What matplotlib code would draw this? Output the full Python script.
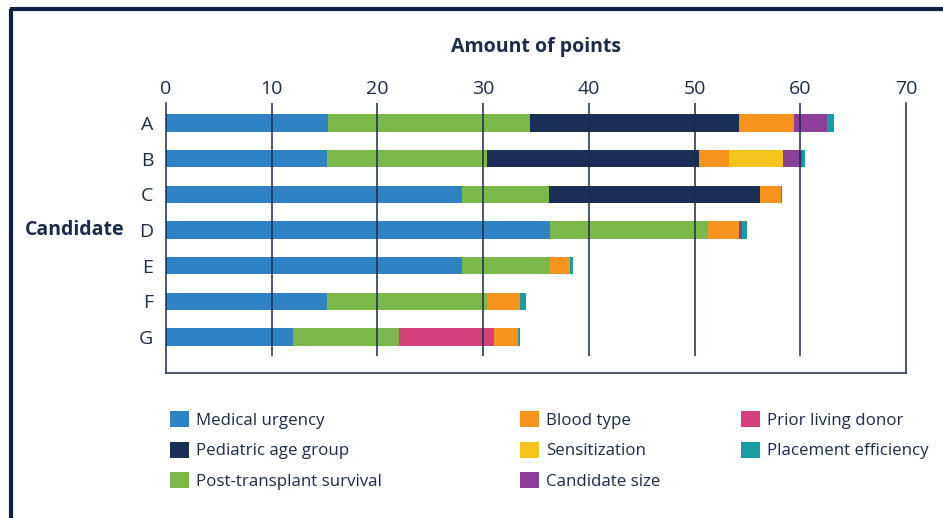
import matplotlib
matplotlib.use("Agg")
import matplotlib.pyplot as plt
from matplotlib.lines import Line2D
import matplotlib.transforms as mtransforms
import numpy as np

plt.rcParams['font.family'] = ['Open Sans', 'DejaVu Sans']

candidates = ["A", "B", "C", "D", "E", "F", "G"]
criteria = ["Medical urgency", "Pediatric age group", "Post-transplant survival",
            "Blood type", "Sensitization", "Candidate size",
            "Prior living donor", "Placement efficiency"]

medical_urgency   = [15.3, 15.2, 28.0, 36.3, 28.0, 15.2, 12.0]
post_transplant   = [19.1, 15.2, 8.2, 15.0, 8.3, 15.2, 10.0]
prior_living      = [0, 0, 0, 0, 0, 0, 9.0]
pediatric_age     = [19.8, 20.0, 20.0, 0, 0, 0, 0]
blood_type        = [5.2, 2.9, 2.0, 2.9, 1.9, 3.1, 2.3]
sensitization     = [0, 5.1, 0, 0, 0, 0, 0]
candidate_size    = [3.1, 1.8, 0, 0.3, 0, 0, 0]
placement_eff     = [0.7, 0.2, 0.1, 0.5, 0.3, 0.6, 0.2]

colors = {
    "Medical urgency": "#2f83c4",
    "Pediatric age group": "#1b2e58",
    "Post-transplant survival": "#7bb84a",
    "Blood type": "#f7941d",
    "Sensitization": "#f5c31c",
    "Candidate size": "#8b3f98",
    "Prior living donor": "#d43f7e",
    "Placement efficiency": "#1a9ca6",
}

# stacking order as drawn left to right
stack = [
    ("Medical urgency", medical_urgency),
    ("Post-transplant survival", post_transplant),
    ("Prior living donor", prior_living),
    ("Pediatric age group", pediatric_age),
    ("Blood type", blood_type),
    ("Sensitization", sensitization),
    ("Candidate size", candidate_size),
    ("Placement efficiency", placement_eff),
]

xticks = [0, 10, 20, 30, 40, 50, 60, 70]
navy = "#1c2b4a"

W, H = 943, 518
fig = plt.figure(figsize=(W / 100, H / 100), dpi=100)
ax = fig.add_axes([166 / W, 1 - 373 / H, (906 - 166) / W, (373 - 103) / H])

y = np.arange(len(candidates))
left = np.zeros(len(candidates))
handles = {}
for name, vals in stack:
    vals = np.array(vals, dtype=float)
    bc = ax.barh(y, vals, left=left, height=0.49, color=colors[name],
                 label=name, zorder=2, linewidth=0)
    handles[name] = bc
    left = left + vals

ax.set_xlim(0, 70)
ax.set_ylim(7.01, -0.56)
ax.vlines(xticks[1:-1], 6.53, -0.56, color=navy, linewidth=1.1, zorder=3)

ax.xaxis.tick_top()
ax.set_xticks(xticks)
ax.set_xticklabels([str(t) for t in xticks])
ax.set_yticks(y)
ax.set_yticklabels(candidates)
ax.tick_params(axis='x', length=0, pad=3.5, labelsize=14, colors=navy)
ax.tick_params(axis='y', length=0, pad=9, labelsize=14, colors=navy)

ax.spines['top'].set_visible(False)
for s in ['left', 'right', 'bottom']:
    ax.spines[s].set_color(navy)
    ax.spines[s].set_linewidth(1.1)

ax.xaxis.set_label_position('top')
ax.set_xlabel("Amount of points", fontsize=14, fontweight='bold', color=navy, labelpad=20)

trans = mtransforms.blended_transform_factory(fig.transFigure, ax.transData)
ax.text(125 / W, 3, "Candidate", transform=trans, ha='right', va='center',
        fontsize=14, fontweight='bold', color=navy)

# legends in three columns
cols = [
    (["Medical urgency", "Pediatric age group", "Post-transplant survival"], 170),
    (["Blood type", "Sensitization", "Candidate size"], 520),
    (["Prior living donor", "Placement efficiency"], 741),
]
for names, xpx in cols:
    leg = fig.legend([handles[n] for n in names], names, loc='upper left',
                     bbox_to_anchor=(xpx / W, 1 - 411 / H), frameon=False,
                     fontsize=12.2, handlelength=1.1, handleheight=1.1,
                     handletextpad=0.45, labelspacing=0.75, borderpad=0,
                     borderaxespad=0)
    for t in leg.get_texts():
        t.set_color(navy)

# frame border (top and left)
fig.add_artist(Line2D([11 / W, 11 / W], [0, 1 - 8.7 / H], transform=fig.transFigure,
                      color="#0d2240", linewidth=3, solid_capstyle='butt'))
fig.add_artist(Line2D([9.5 / W, 1], [1 - 8.7 / H, 1 - 8.7 / H], transform=fig.transFigure,
                      color="#0d2240", linewidth=3, solid_capstyle='butt'))

fig.savefig("out.png", dpi=100)
